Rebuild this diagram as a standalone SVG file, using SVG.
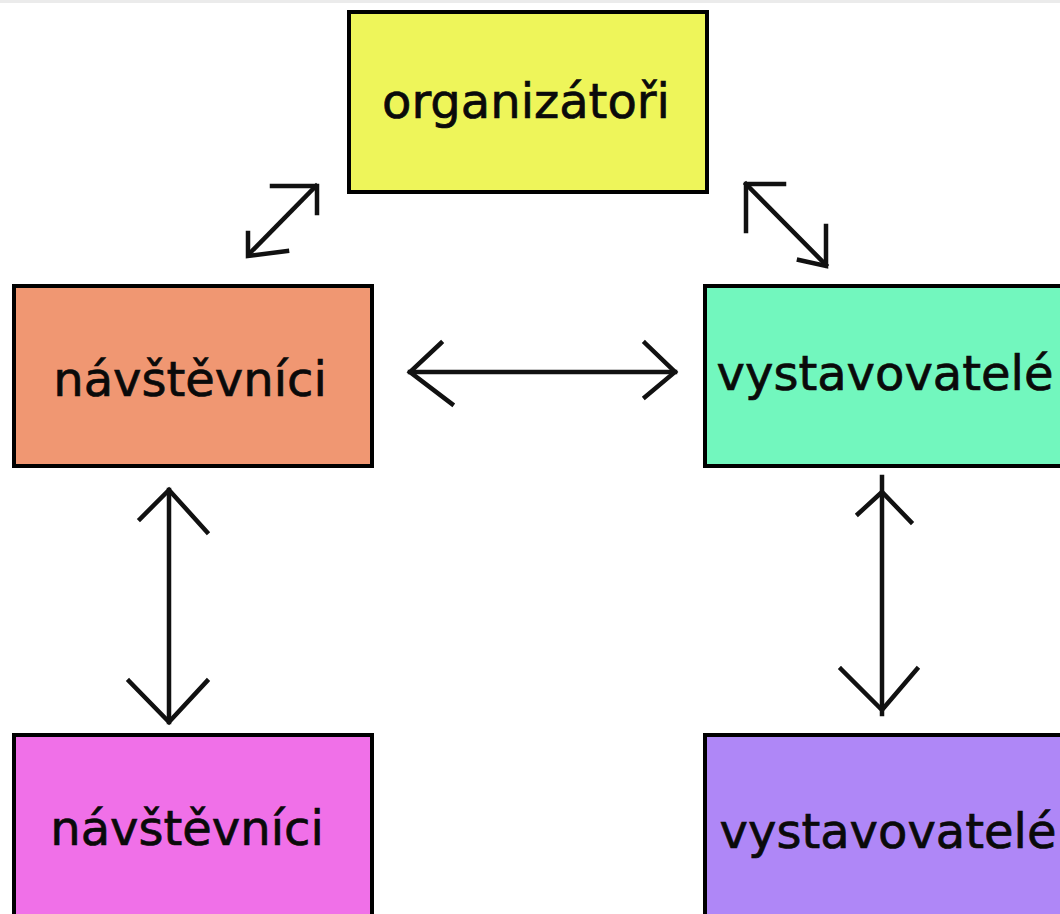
<svg xmlns="http://www.w3.org/2000/svg" width="1060" height="914" viewBox="0 0 1060 914">
<style>
.box{stroke:#000;stroke-width:4}
.lbl{font-family:"DejaVu Sans",Verdana,sans-serif;font-size:48px;fill:#0a0a0a;stroke:#0a0a0a;stroke-width:0.7;text-anchor:middle}
.ln{fill:none;stroke:#111;stroke-width:4.5;stroke-linecap:square}
</style>
<rect x="0" y="0" width="1060" height="914" fill="#fff"/>
<rect x="0" y="0" width="1060" height="3" fill="#ebebeb"/>
<g id="organizatori">
<rect class="box" x="349" y="12" width="358" height="180" fill="#eef55a"/>
<text class="lbl" x="526" y="118">organizátoři</text>
</g>
<g id="navstevnici1">
<rect class="box" x="14" y="286" width="358" height="180" fill="#f09772"/>
<text class="lbl" x="190" y="396">návštěvníci</text>
</g>
<g id="vystavovatele1">
<rect class="box" x="705" y="286" width="360" height="180" fill="#72f7be"/>
<text class="lbl" x="885" y="390">vystavovatelé</text>
</g>
<g id="navstevnici2">
<rect class="box" x="14" y="735" width="358" height="190" fill="#f070e8"/>
<text class="lbl" x="187" y="845">návštěvníci</text>
</g>
<g id="vystavovatele2">
<rect class="box" x="705" y="735" width="360" height="190" fill="#af87f7"/>
<text class="lbl" x="888" y="848">vystavovatelé</text>
</g>
<g id="connectors">
<line class="ln" x1="316" y1="186" x2="250" y2="253"/>
<polyline class="ln" points="272,186 317,186 317,213"/>
<polyline class="ln" points="248,233 248,256 287,251"/>
<line class="ln" x1="746" y1="184" x2="826" y2="265"/>
<polyline class="ln" points="784,184 746,184 746,231"/>
<polyline class="ln" points="826,226 826,266 799,260"/>
<line class="ln" x1="410" y1="372" x2="675" y2="372"/>
<polyline class="ln" points="441,343 410,372 452,404"/>
<polyline class="ln" points="645,343 675,372 645,397"/>
<line class="ln" x1="169" y1="490" x2="169" y2="722"/>
<polyline class="ln" points="140,519 169,490 207,532"/>
<polyline class="ln" points="129,681 169,722 207,681"/>
<line class="ln" x1="882" y1="477" x2="882" y2="714"/>
<polyline class="ln" points="858,514 882,492 911,522"/>
<polyline class="ln" points="841,669 882,710 917,669"/>
</g>
</svg>
